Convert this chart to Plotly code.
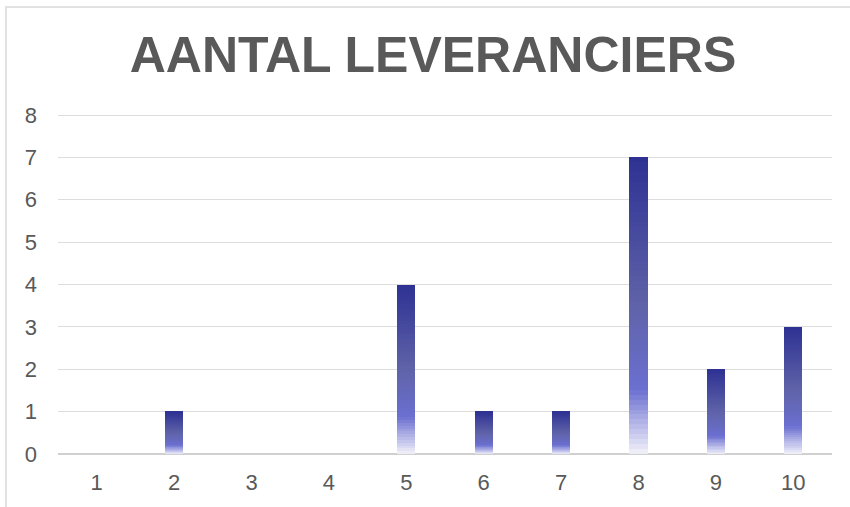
import plotly.graph_objects as go

categories = ["1", "2", "3", "4", "5", "6", "7", "8", "9", "10"]
values = [0, 1, 0, 0, 4, 1, 1, 7, 2, 3]
y_ticks = [0, 1, 2, 3, 4, 5, 6, 7, 8]
title_text = "AANTAL LEVERANCIERS"

# gradient stops (fraction from bottom, rgb)
stops = [(0.0, (242, 242, 250)), (0.22, (107, 111, 208)), (0.5, (95, 99, 168)), (1.0, (46, 49, 146))]

def color_at(f):
    for (f0, c0), (f1, c1) in zip(stops[:-1], stops[1:]):
        if f0 <= f <= f1:
            t = (f - f0) / (f1 - f0)
            c = [round(a + (b - a) * t) for a, b in zip(c0, c1)]
            return f"rgb({c[0]},{c[1]},{c[2]})"
    c = stops[-1][1]
    return f"rgb({c[0]},{c[1]},{c[2]})"

N = 60
fig = go.Figure()
for i in range(N):
    f = (i + 0.5) / N
    fig.add_trace(go.Bar(
        x=categories,
        y=[v / N for v in values],
        marker=dict(color=color_at(f), line=dict(width=0)),
        width=0.235,
        showlegend=False,
        hoverinfo="skip",
    ))

W, H = 850, 507
L, R, T, B = 58, 18, 114, 53
pw, ph = W - L - R, H - T - B

def px_x(p):
    return (p - L) / pw

def px_y(p):
    return (H - B - p) / ph

fig.add_shape(type="rect", xref="paper", yref="paper",
              x0=px_x(6), x1=px_x(870), y0=px_y(7), y1=px_y(530),
              line=dict(color="#D9D9D9", width=1.5), fillcolor="rgba(0,0,0,0)", layer="below")

fig.update_layout(
    width=W, height=H,
    margin=dict(l=L, r=R, t=T, b=B),
    paper_bgcolor="white", plot_bgcolor="white",
    barmode="stack", bargap=0,
    title=dict(text=f"<b>{title_text}</b>", x=px_x(433), xanchor="center", xref="paper",
               y=1 - 54.5 / H, yanchor="middle",
               font=dict(family="Liberation Sans, Arial", size=50, color="#595959")),
    font=dict(family="Liberation Sans, Arial", color="#595959", size=22),
    xaxis=dict(type="category", showgrid=False, showline=False, ticks="",
               tickfont=dict(size=22, color="#595959"), ticklabelstandoff=13),
    yaxis=dict(range=[0, 8.025], tickvals=y_ticks, showgrid=True, gridcolor="#DDDDDD", gridwidth=1,
               zeroline=True, zerolinecolor="#D0D0D0", zerolinewidth=1.5, showline=False, ticks="",
               tickfont=dict(size=22, color="#595959"), ticklabelstandoff=20),
)

fig.write_html("out.html", config={"displayModeBar": False},
               post_script="document.body.style.margin='0';document.body.style.padding='0';")
